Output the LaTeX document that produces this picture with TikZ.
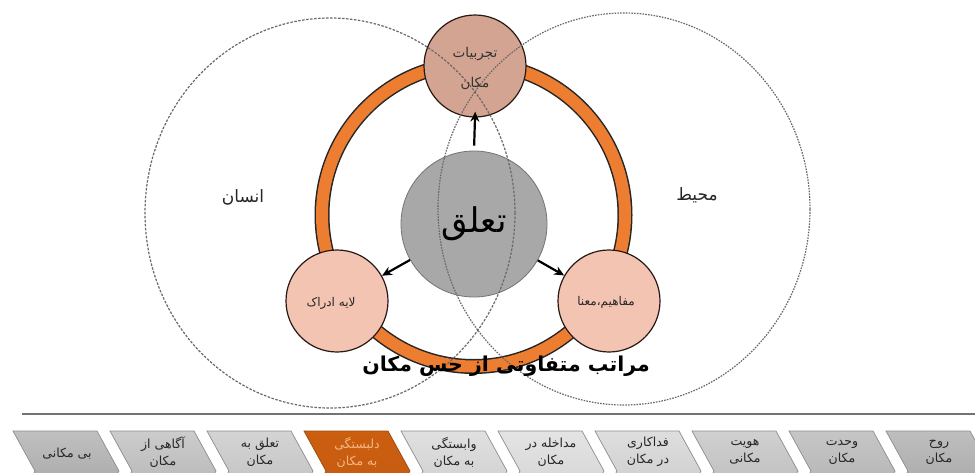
\documentclass[tikz,border=0pt]{standalone}
\usepackage{fontspec}
\usetikzlibrary{arrows.meta}
\TeXXeTstate=1
\newfontfamily\arabicfont[Script=Arabic]{DejaVu Sans}
\definecolor{ringorange}{RGB}{237,125,49}
\definecolor{topfill}{RGB}{212,164,146}
\definecolor{sidefill}{RGB}{243,196,178}
\definecolor{nodeedge}{RGB}{40,25,20}
\definecolor{grayfill}{RGB}{168,168,168}
\definecolor{grayedge}{RGB}{115,115,115}
\definecolor{dashgray}{RGB}{105,105,105}
\definecolor{chevedge}{RGB}{140,140,140}
\definecolor{chevorange}{RGB}{197,90,17}
\definecolor{chevtextorange}{RGB}{246,184,130}
\tikzset{
  smallcirc/.style={circle, draw=nodeedge, line width=1.2pt, minimum size=102pt, inner sep=0pt},
  bigcirc/.style={circle, draw=grayedge, line width=0.8pt, fill=grayfill, minimum size=146pt, inner sep=0pt},
  dashring/.style={draw=dashgray, line width=1.2pt, dash pattern=on 2.5pt off 1.5pt},
  arr/.style={-{Stealth[length=10pt,width=9pt]}, line width=2.2pt, black},
  chev/.style={draw=chevedge, line width=0.7pt},
  chevtext/.style={font=\arabicfont\fontsize{12.5}{17}\selectfont, align=center, text=black!85},
  lbl/.style={font=\arabicfont\fontsize{17}{20}\selectfont, text=black!85},
}
\begin{document}
\begin{tikzpicture}[x=1pt,y=-1pt]
\useasboundingbox (0,0) rectangle (975,472);
\clip (0,0) rectangle (975,472);
\fill[white] (0,0) rectangle (975,472);
% ring
\coordinate (rc) at (473.5,215);
\draw[line width=15pt, black!85] (rc) circle[radius=151.5pt];
\draw[line width=12pt, ringorange] (rc) circle[radius=151.5pt];
% nodes
\node[smallcirc, fill=topfill] (top) at (475,66) {};
\node[smallcirc, fill=sidefill] (left) at (337,301) {};
\node[smallcirc, fill=sidefill] (right) at (609,301) {};
\node[bigcirc] (c) at (474,224) {};
% dashed circles
\draw[dashring] (330,213) ellipse[x radius=185pt, y radius=195pt];
\draw[dashring, dash pattern=on 1.6pt off 1.2pt] (624,209) ellipse[x radius=186pt, y radius=196pt];
% node texts
\node[font=\arabicfont\fontsize{13.5}{30}\selectfont, align=center, text=black!80] (toptext) at (475,68) {\beginR تجربیات\endR\\\beginR مکان\endR};
\node[font=\arabicfont\fontsize{12}{14}\selectfont, text=black!85] (lefttext) at (331,303) {\beginR لایه ادراک\endR};
\node[font=\arabicfont\fontsize{12}{14}\selectfont, text=black!85] (righttext) at (606,302) {\beginR مفاهیم،معنا\endR};
\node[font=\arabicfont\fontsize{34}{36}\selectfont, text=black] (ctext) at (474,224) {\beginR تعلق\endR};
% arrows
\draw[arr, shorten <=5pt, shorten >=-6pt] (c.north) -- (top.south);
\draw[arr] (c) -- (left);
\draw[arr] (c) -- (right);
% labels
\node[lbl] (insan) at (243,197) {\beginR انسان\endR};
\node[lbl] (mohit) at (697,195) {\beginR محیط\endR};
\node[font=\arabicfont\bfseries\fontsize{20.5}{22}\selectfont, text=black] (title) at (506,366) {\beginR مراتب متفاوتی از حس مکان\endR};
% separator line
\coordinate (la) at (22,414);
\coordinate (lb) at (975,414);
\draw[line width=1.8pt, black!55] (la) -- (lb);
% chevrons
\foreach \i/\tc/\bc in {0/192/160, 1/204/176, 2/212/188, 4/224/202, 5/228/208, 6/222/200, 7/208/184, 8/198/174, 9/190/162}{
  \definecolor{ct}{RGB}{\tc,\tc,\tc}
  \definecolor{cb}{RGB}{\bc,\bc,\bc}
  \path[chev, top color=ct, bottom color=cb]
    ({13+97*\i},431) -- ({97+97*\i},431) -- ({119+97*\i},471) -- ({97+97*\i},511)
    -- ({13+97*\i},511) -- ({35+97*\i},471) -- cycle;
}
\path[draw=chevorange!80!black, line width=0.7pt, top color=chevorange!90!orange, bottom color=chevorange]
  ({13+97*3},431) -- ({97+97*3},431) -- ({119+97*3},471) -- ({97+97*3},511)
  -- ({13+97*3},511) -- ({35+97*3},471) -- cycle;
% chevron texts
\node[chevtext] (k1) at (67,454) {\beginR بی مکانی\endR};
\node[chevtext] (k2) at ({66+97},452) {\beginR آگاهی از\endR\\\beginR مکان\endR};
\node[chevtext] (k3) at ({66+97*2},452) {\beginR تعلق به\endR\\\beginR مکان\endR};
\node[chevtext, text=chevtextorange] (k4) at ({66+97*3},452) {\beginR دلبستگی\endR\\\beginR به مکان\endR};
\node[chevtext] (k5) at ({66+97*4},452) {\beginR وابستگی\endR\\\beginR به مکان\endR};
\node[chevtext] (k6) at ({66+97*5},452) {\beginR مداخله در\endR\\\beginR مکان\endR};
\node[chevtext] (k7) at ({66+97*6},452) {\beginR فداکاری\endR\\\beginR در مکان\endR};
\node[chevtext] (k8) at ({66+97*7},452) {\beginR هویت\endR\\\beginR مکانی\endR};
\node[chevtext] (k9) at ({66+97*8},452) {\beginR وحدت\endR\\\beginR مکان\endR};
\node[chevtext] (k10) at ({66+97*9},452) {\beginR روح\endR\\\beginR مکان\endR};
\end{tikzpicture}
\end{document}
